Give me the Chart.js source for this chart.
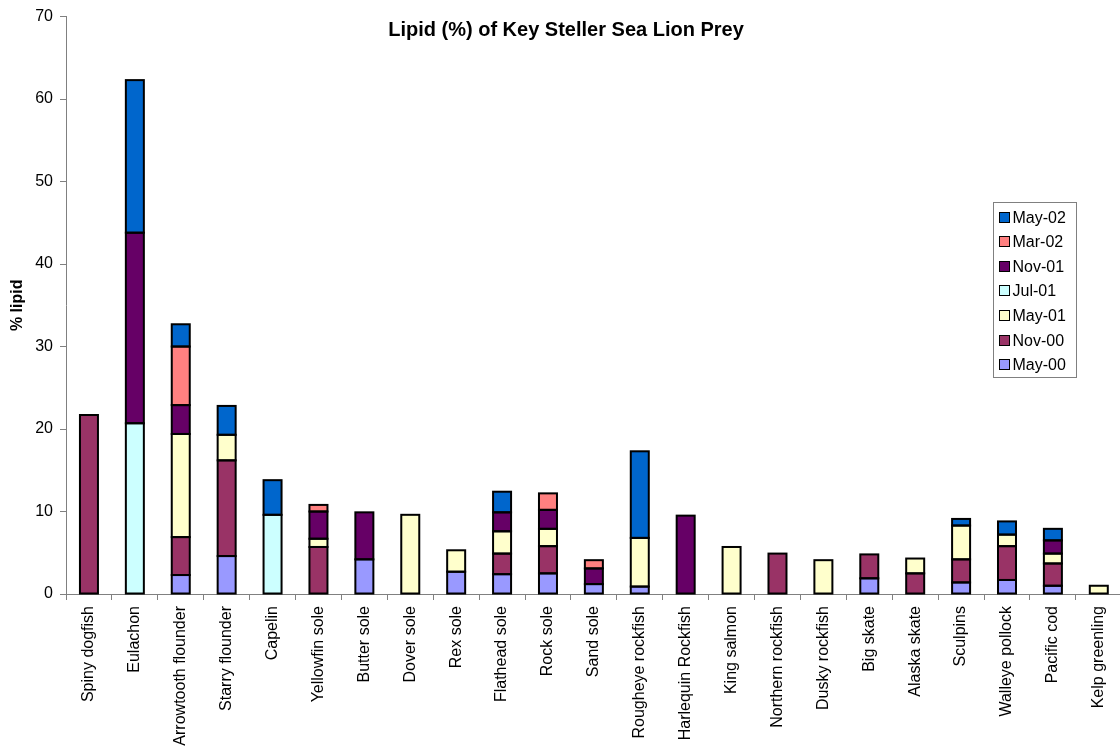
<!DOCTYPE html>
<html>
<head>
<meta charset="utf-8">
<script src="https://cdn.jsdelivr.net/npm/chart.js@4/dist/chart.umd.min.js"></script>
<style>
  html, body { margin: 0; padding: 0; background: #fff; overflow: hidden; }
  #wrap { width: 1124px; height: 754px; }
</style>
</head>
<body>
<div id="wrap"><canvas id="lipidChart" width="1124" height="754"></canvas></div>
<script>
const chartTitle = 'Lipid (%) of Key Steller Sea Lion Prey';

const species = [
  'Spiny dogfish', 'Eulachon', 'Arrowtooth flounder', 'Starry flounder', 'Capelin',
  'Yellowfin sole', 'Butter sole', 'Dover sole', 'Rex sole', 'Flathead sole',
  'Rock sole', 'Sand sole', 'Rougheye rockfish', 'Harlequin Rockfish', 'King salmon',
  'Northern rockfish', 'Dusky rockfish', 'Big skate', 'Alaska skate', 'Sculpins',
  'Walleye pollock', 'Pacific cod', 'Kelp greenling'
];

// lipid % per sampling date, stacked bottom to top
const may00 = [null, null, 2.3, 4.6, null, null, 4.2, null, 2.7, 2.4, 2.5, 1.2, 0.9, null, null, null, null, 1.9, null, 1.4, 1.7, 1.0, null];
const nov00 = [21.7, null, 4.6, 11.6, null, 5.7, null, null, null, 2.5, 3.3, null, null, null, null, 4.9, null, 2.9, 2.5, 2.8, 4.1, 2.7, null];
const may01 = [null, null, 12.5, 3.1, null, 1.0, null, 9.6, 2.6, 2.7, 2.1, null, 5.9, null, 5.7, null, 4.1, null, 1.8, 4.1, 1.4, 1.2, 1.0];
const jul01 = [null, 20.7, null, null, 9.6, null, null, null, null, null, null, null, null, null, null, null, null, null, null, null, null, null, null];
const nov01 = [null, 23.1, 3.5, null, null, 3.3, 5.7, null, null, 2.3, 2.3, 1.9, null, 9.5, null, null, null, null, null, null, null, 1.6, null];
const mar02 = [null, null, 7.1, null, null, 0.8, null, null, null, null, 2.0, 1.0, null, null, null, null, null, null, null, null, null, null, null];
const may02 = [null, 18.5, 2.7, 3.5, 4.2, null, null, null, null, 2.5, null, null, 10.5, null, null, null, null, null, null, 0.8, 1.6, 1.4, null];

const seriesNames = ['May-00', 'Nov-00', 'May-01', 'Jul-01', 'Nov-01', 'Mar-02', 'May-02'];
const seriesData = [may00, nov00, may01, jul01, nov01, mar02, may02];
const seriesColors = ['#9999FF', '#993366', '#FFFFCC', '#CCFFFF', '#660066', '#FF8080', '#0066CC'];

const yMax = 70;
const yStep = 10;

const FONT = "'Liberation Sans', Arial, sans-serif";
const AXIS_GREY = '#808080';

// title sits over the plot area, so it is drawn by hand
const titlePlugin = {
  id: 'overTitle',
  afterDraw(chart) {
    const ctx = chart.ctx;
    ctx.save();
    ctx.font = 'bold 20px ' + FONT;
    ctx.fillStyle = '#000';
    ctx.textAlign = 'center';
    ctx.textBaseline = 'middle';
    ctx.fillText(chartTitle, 566, 30);
    ctx.restore();
  }
};

// black outline centred on each segment edge, so shared edges stay one line
const segmentOutline = {
  id: 'segmentOutline',
  afterDatasetsDraw(chart) {
    const ctx = chart.ctx;
    ctx.save();
    ctx.strokeStyle = '#000';
    ctx.lineWidth = 2;
    chart.data.datasets.forEach((ds, i) => {
      const meta = chart.getDatasetMeta(i);
      meta.data.forEach((bar, j) => {
        if (ds.data[j] == null) return;
        const p = bar.getProps(['x', 'y', 'base', 'width'], true);
        const top = Math.min(p.y, p.base);
        ctx.strokeRect(p.x - p.width / 2, top, p.width, Math.abs(p.base - p.y));
      });
    });
    ctx.restore();
  }
};

// boxed legend on the right, newest date on top
const boxLegend = {
  id: 'boxLegend',
  afterDraw(chart) {
    const ctx = chart.ctx;
    const left = 993.5, top = 202.5, w = 83, h = 175, step = 24.6;
    ctx.save();
    ctx.fillStyle = '#fff';
    ctx.fillRect(left, top, w, h);
    ctx.strokeStyle = AXIS_GREY;
    ctx.lineWidth = 1;
    ctx.strokeRect(left, top, w, h);
    ctx.font = '16px ' + FONT;
    ctx.textBaseline = 'middle';
    ctx.textAlign = 'left';
    const items = chart.data.datasets.slice().reverse();
    items.forEach((ds, i) => {
      const cy = Math.round(top + 14 + i * step) + 0.5;
      ctx.fillStyle = ds.backgroundColor;
      ctx.fillRect(left + 6, cy - 5, 10, 10);
      ctx.strokeStyle = '#000';
      ctx.strokeRect(left + 6, cy - 5, 10, 10);
      ctx.fillStyle = '#000';
      ctx.fillText(ds.label, left + 19, cy + 1);
    });
    ctx.restore();
  }
};

const datasets = seriesNames.map((name, i) => ({
  label: name,
  data: seriesData[i],
  backgroundColor: seriesColors[i],
  borderWidth: 0,
  inflateAmount: 0,
  barThickness: 18
}));

new Chart(document.getElementById('lipidChart'), {
  type: 'bar',
  data: { labels: species, datasets: datasets },
  options: {
    responsive: false,
    animation: false,
    layout: { padding: { top: 16, right: 0, bottom: 0, left: 0 } },
    plugins: {
      legend: { display: false },
      title: { display: false },
      tooltip: { enabled: false }
    },
    scales: {
      x: {
        stacked: true,
        grid: { drawOnChartArea: false, drawTicks: true, tickLength: 6, color: AXIS_GREY },
        border: { color: AXIS_GREY, width: 1 },
        ticks: {
          color: '#000',
          font: { family: FONT, size: 16 },
          minRotation: 90,
          maxRotation: 90,
          autoSkip: false,
          padding: 6
        },
        afterFit(scale) { scale.height = 160; }
      },
      y: {
        stacked: true,
        min: 0,
        max: yMax,
        grid: { drawOnChartArea: false, drawTicks: true, tickLength: 6, color: AXIS_GREY },
        border: { color: AXIS_GREY, width: 1 },
        ticks: {
          stepSize: yStep,
          color: '#000',
          font: { family: FONT, size: 16 },
          padding: 7
        },
        title: {
          display: true,
          text: '% lipid',
          color: '#000',
          font: { family: FONT, size: 16, weight: 'bold' },
          padding: { top: 8, bottom: 0 }
        },
        afterFit(scale) { scale.width = 66; }
      }
    }
  },
  plugins: [segmentOutline, titlePlugin, boxLegend]
});
</script>
</body>
</html>
